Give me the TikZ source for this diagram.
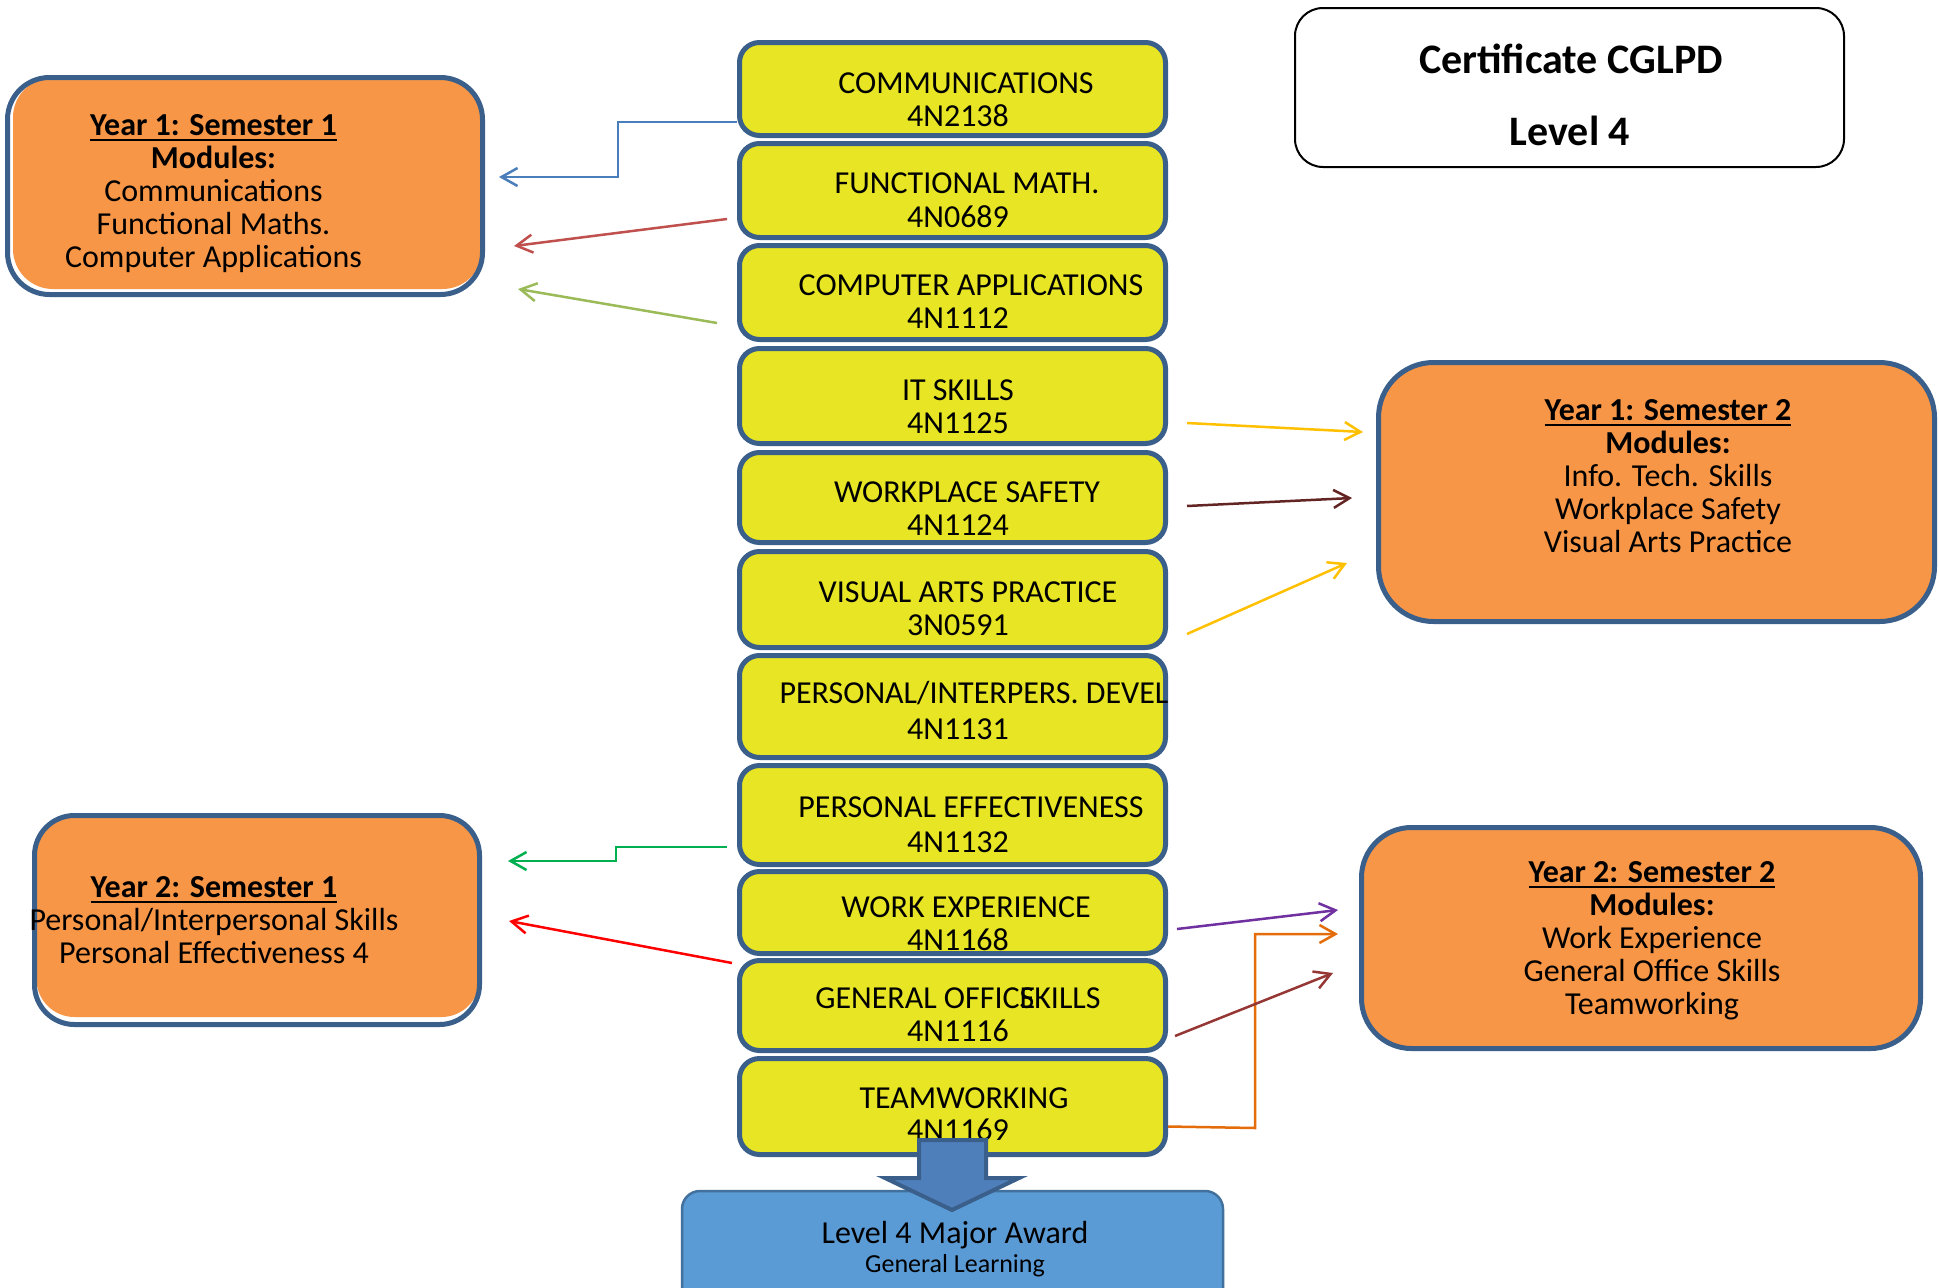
\documentclass[tikz,border=0pt]{standalone}
\usepackage{fontspec}
\setmainfont{Carlito}
\usetikzlibrary{arrows.meta,calc}
\definecolor{yfill}{HTML}{E7E524}
\definecolor{bord}{HTML}{3A5F8B}
\definecolor{ofill}{HTML}{F79646}
\definecolor{bfill}{HTML}{5B9BD5}
\definecolor{bbord}{HTML}{41719C}
\definecolor{afill}{HTML}{4F7FBA}
\definecolor{cblue}{HTML}{4A7EBB}
\definecolor{cred}{HTML}{C0504D}
\definecolor{cgreen}{HTML}{9BBB59}
\definecolor{cgold}{HTML}{FFC000}
\definecolor{cdark}{HTML}{632523}
\definecolor{cgreenb}{HTML}{00B050}
\definecolor{credb}{HTML}{FF0000}
\definecolor{cpurple}{HTML}{7030A0}
\definecolor{corange}{HTML}{E46C0A}
\definecolor{cbrown}{HTML}{953735}
\newsavebox\ulbox
\newcommand\ulin[1]{\sbox\ulbox{#1}\rlap{\rule[-6pt]{\wd\ulbox}{2.5pt}}\usebox\ulbox}
\newcommand\mlines[1]{\lineskiplimit=-50pt\vtop{\halign{\hfil##\hfil\cr#1\crcr}}}
\begin{document}
\begin{tikzpicture}[x=1pt,y=-1pt,
  every node/.style={outer sep=0pt},
  ymod/.style={draw=bord,fill=yfill,line width=5pt,rounded corners=20pt,inner sep=0pt,anchor=north west,minimum width=426pt},
  omod/.style={draw=bord,line width=5pt,inner sep=0pt,anchor=north west},
  ytxt/.style={anchor=base,inner sep=0pt,font=\fontsize{32}{33}\selectfont},
  otxt/.style={anchor=base,inner sep=0pt,font=\fontsize{32}{33}\selectfont},
  conn/.style={line width=2.5pt,-{Straight Barb[length=16pt,width=18pt]}},
]
\useasboundingbox (0,0) rectangle (1939,1288);
\fill[white] (0,0) rectangle (1939,1288);

% yellow module boxes
\node[ymod,minimum height=93pt] (comm) at (739.5,42.5) {};
\node[ymod,minimum height=94pt] (fmath) at (739.5,143.5) {};
\node[ymod,minimum height=94pt] (capp) at (739.5,245.5) {};
\node[ymod,minimum height=95pt] (its) at (739.5,348.5) {};
\node[ymod,minimum height=90pt] (wps) at (739.5,452.5) {};
\node[ymod,minimum height=96pt] (vap) at (739.5,551.5) {};
\node[ymod,minimum height=102pt] (pid) at (739.5,655.5) {};
\node[ymod,minimum height=99pt] (pe) at (739.5,765.5) {};
\node[ymod,minimum height=82pt] (we) at (739.5,871.5) {};
\node[ymod,minimum height=90pt] (gos) at (739.5,960.5) {};
\node[ymod,minimum height=96pt] (tw) at (739.5,1058.5) {};

\node[ytxt] (comm1) at (966,93) {COMMUNICATIONS};
\node[ytxt] (comm2) at (958,126) {4N2138};
\node[ytxt] (fmath1) at (967,193) {FUNCTIONAL MATH.};
\node[ytxt] (fmath2) at (958,227) {4N0689};
\node[ytxt] (capp1) at (971,295) {COMPUTER APPLICATIONS};
\node[ytxt] (capp2) at (958,328) {4N1112};
\node[ytxt] (its1) at (958,400) {IT SKILLS};
\node[ytxt] (its2) at (958,433) {4N1125};
\node[ytxt] (wps1) at (967,502) {WORKPLACE SAFETY};
\node[ytxt] (wps2) at (958,535) {4N1124};
\node[ytxt] (vap1) at (968,602) {VISUAL ARTS PRACTICE};
\node[ytxt] (vap2) at (958,635) {3N0591};
\node[ytxt] (pid1) at (974,703) {PERSONAL/INTERPERS. DEVEL};
\node[ytxt] (pid2) at (958,739) {4N1131};
\node[ytxt] (pe1) at (971,817) {PERSONAL EFFECTIVENESS};
\node[ytxt] (pe2) at (958,852) {4N1132};
\node[ytxt] (we1) at (966,917) {WORK EXPERIENCE};
\node[ytxt] (we2) at (958,950) {4N1168};
\node[ytxt] (gos1) at (958,1008) {GENERAL OFFIC\rlap{E}SKILLS};
\node[ytxt] (gos2) at (958,1041) {4N1116};
\node[ytxt] (tw1) at (964,1108) {TEAMWORKING};
\node[ytxt] (tw2) at (958,1140) {4N1169};

% orange semester boxes
\fill[white,rounded corners=42pt] (7.5,77.5) rectangle (482.5,294.5);
\fill[ofill,rounded corners=40pt] (13,77.5) rectangle (482.5,289);
\node[omod,rounded corners=42pt,minimum width=475pt,minimum height=217pt] (y1s1) at (7.5,77.5) {};
\node[otxt] (y1s1t) at (213.5,135) {\mlines{\ulin{\bfseries Year 1: Semester 1}\cr
  \bfseries Modules:\cr Communications\cr Functional Maths.\cr Computer Applications}};

\node[omod,fill=ofill,rounded corners=55pt,minimum width=556pt,minimum height=259pt] (y1s2) at (1378.5,362.5) {};
\node[otxt] (y1s2t) at (1668,420) {\mlines{\ulin{\bfseries Year 1: Semester 2}\cr
  \bfseries Modules:\cr Info. Tech. Skills\cr Workplace Safety\cr Visual Arts Practice}};

\fill[white,rounded corners=40pt] (34.5,815.5) rectangle (479.5,1024.5);
\fill[ofill,rounded corners=38pt] (36.5,815.5) rectangle (479.5,1017);
\node[omod,rounded corners=40pt,minimum width=445pt,minimum height=209pt] (y2s1) at (34.5,815.5) {};
\node[otxt] (y2s1t) at (214,897) {\mlines{\ulin{\bfseries Year 2: Semester 1}\cr
  Personal/Interpersonal Skills\cr Personal Effectiveness 4}};

\node[omod,fill=ofill,rounded corners=50pt,minimum width=559pt,minimum height=221pt] (y2s2) at (1361.5,827.5) {};
\node[otxt] (y2s2t) at (1652,882) {\mlines{\ulin{\bfseries Year 2: Semester 2}\cr
  \bfseries Modules:\cr Work Experience\cr General Office Skills\cr Teamworking}};

% title box
\node[draw=black,line width=2pt,rounded corners=28pt,inner sep=0pt,anchor=north west,
  minimum width=549pt,minimum height=159pt] (title) at (1295,8) {};
\node[anchor=base,inner sep=0pt,font=\fontsize{42}{44}\bfseries] (title1) at (1571,73) {Certificate CGLPD};
\node[anchor=base,inner sep=0pt,font=\fontsize{42}{44}\bfseries] (title2) at (1570,145) {Level 4};

% award box
\node[draw=bbord,fill=bfill,line width=2.5pt,rounded corners=18pt,inner sep=0pt,anchor=north west,
  minimum width=541pt,minimum height=130pt] (award) at (682,1191) {};
\node[anchor=base,inner sep=0pt,font=\fontsize{32}{33}\selectfont] (award1) at (955,1243) {Level 4 Major Award};
\node[anchor=base,inner sep=0pt,font=\fontsize{26}{28}\selectfont] (award2) at (955,1272) {General Learning};

% block arrow
\draw[fill=afill,draw=bord,line width=4pt,line join=miter]
  (919,1140) -- (986,1140) -- (986,1178) -- (1019,1178) -- (952,1210) -- (885,1178) -- (919,1178) -- cycle;

% connector end points
\coordinate (a1s) at ($(comm.west)+(-2.5,33)$);
\coordinate (a1t) at (499,177);
\coordinate (a2s) at (727,219);
\coordinate (a2t) at (514,246);
\coordinate (a3s) at (717,323);
\coordinate (a3t) at (518,289);
\coordinate (a4s) at (1187,423);
\coordinate (a4t) at (1363,432);
\coordinate (a5s) at (1187,506);
\coordinate (a5t) at (1352,498);
\coordinate (a6s) at (1187,634);
\coordinate (a6t) at (1347,563);
\coordinate (a7s) at (727,847);
\coordinate (a7t) at (508,861);
\coordinate (a8s) at (732,963);
\coordinate (a8t) at (509,921);
\coordinate (a9s) at (1177,929);
\coordinate (a9t) at (1338,910);
\coordinate (a10s) at ($(tw.east)+(2.5,20)$);
\coordinate (a10t) at (1338,934);
\coordinate (a11s) at (1175,1036);
\coordinate (a11t) at (1333,973);

\draw[conn,cblue] (a1s) -- (618,122) -- (618,177) -- (a1t);
\draw[conn,cred] (a2s) -- (a2t);
\draw[conn,cgreen] (a3s) -- (a3t);
\draw[conn,cgold] (a4s) -- (a4t);
\draw[conn,cdark] (a5s) -- (a5t);
\draw[conn,cgold] (a6s) -- (a6t);
\draw[conn,cgreenb] (a7s) -- (616,847) -- (616,861) -- (a7t);
\draw[conn,credb] (a8s) -- (a8t);
\draw[conn,cpurple] (a9s) -- (a9t);
\draw[conn,corange] (a10s) -- (1255,1128) -- (1255,934) -- (a10t);
\draw[conn,cbrown] (a11s) -- (a11t);
\end{tikzpicture}
\end{document}
